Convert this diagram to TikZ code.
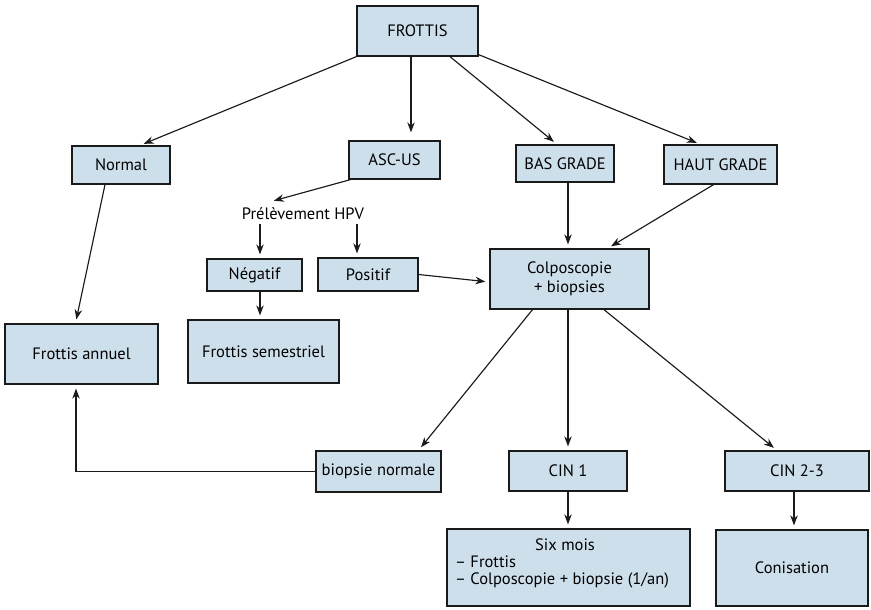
\documentclass[tikz,border=0pt]{standalone}
\usepackage{fontspec}
\setmainfont{PT Sans}
\usetikzlibrary{arrows.meta,calc}
\definecolor{boxfill}{HTML}{CEDFEC}
\definecolor{linec}{HTML}{1A1A1A}
\begin{document}
\begin{tikzpicture}[x=1pt,y=-1pt,
  box/.style={draw=linec, line width=1.3pt, fill=boxfill, inner sep=0pt, font=\fontsize{16.5}{19}\selectfont, align=center},
  lbl/.style={inner sep=0pt, font=\fontsize{16.5}{19}\selectfont},
  arr/.style={-{Stealth[length=10pt,width=7.5pt]}, line width=1.15pt, draw=linec, shorten >=4pt}]
\useasboundingbox (0,0) rectangle (871,610);
\node[box, minimum width=121pt, minimum height=50pt] (frottis) at (417.5,31) {FROTTIS};
\node[box, minimum width=98pt, minimum height=38pt] (normal) at (121,165) {Normal};
\node[box, minimum width=91pt, minimum height=38pt] (ascus) at (394.5,160) {ASC-US};
\node[box, minimum width=98pt, minimum height=37pt] (bas) at (565,163.5) {BAS GRADE};
\node[box, minimum width=113pt, minimum height=39pt] (haut) at (720.5,164.5) {HAUT GRADE};
\node[lbl] (prel) at (303,214) {Prélèvement HPV};
\node[box, minimum width=95pt, minimum height=32pt] (neg) at (254.5,275) {Négatif};
\node[box, minimum width=100pt, minimum height=33pt] (pos) at (368,274.5) {Positif};
\node[box, minimum width=159pt, minimum height=60pt] (colpo) at (569.5,279) {Colposcopie\\+ biopsies};
\node[box, minimum width=153pt, minimum height=60pt] (fann) at (81.5,354) {Frottis annuel};
\node[box, minimum width=151pt, minimum height=63pt] (fsem) at (263.5,351.5) {Frottis semestriel};
\node[box, minimum width=125pt, minimum height=41pt] (bnorm) at (378.5,471.5) {biopsie normale};
\node[box, minimum width=118pt, minimum height=40pt] (cin1) at (568,471) {CIN 1};
\node[box, minimum width=144pt, minimum height=40pt] (cin23) at (797,471) {CIN 2-3};
\node[box, minimum width=243pt, minimum height=77pt] (six) at (568.5,567.5) {};
\node[inner sep=0pt, anchor=north west, align=left, font=\fontsize{16.5}{17}\selectfont] (sixt) at (455,539)
  {\hspace*{80pt}Six mois\\– Frottis\\– Colposcopie + biopsie (1/an)};
\node[box, minimum width=152pt, minimum height=76pt] (conis) at (792,568) {Conisation};

\draw[arr] (frottis.south west) -- ($(normal.north)+(19,0)$);
\draw[arr] ($(frottis.south)+(-6.5,0)$) -- ($(ascus.north)+(16.5,-4)$);
\draw[arr] ($(frottis.south)+(32.5,0)$) -- ($(bas.north)+(-8,0)$);
\draw[arr] ($(frottis.south east)+(0,-2)$) -- ($(haut.north)+(-20,0)$);
\draw[arr] ($(ascus.south west)+(2,0)$) -- ($(prel.north)+(-33,-6)$);
\draw[arr] ($(prel.south)+(-43,4)$) -- ($(neg.north)+(5.5,0)$);
\draw[arr] ($(prel.south)+(54,4)$) -- ($(pos.north)+(-11,0)$);
\draw[arr] ($(neg.south)+(5.5,0)$) -- ($(fsem.north)+(-3.5,0)$);
\draw[arr] (pos.east) -- ($(colpo.west)+(0,3)$);
\draw[arr] ($(bas.south)+(3,0)$) -- ($(colpo.north)+(-1.5,0)$);
\draw[arr] ($(haut.south)+(-7,0)$) -- ($(colpo.north east)+(-42,0)$);
\draw[arr] ($(normal.south)+(-16,0)$) -- ($(fann.north)+(-6,0)$);
\draw[arr] ($(colpo.south)+(-37,0)$) -- ($(bnorm.north)+(40,0)$);
\draw[arr] ($(colpo.south)+(-1.5,0)$) -- (cin1.north);
\draw[arr] ($(colpo.south)+(34.5,0)$) -- ($(cin23.north)+(-20,0)$);
\draw[arr] (cin1.south) -- (six.north -| cin1.south);
\draw[arr] ($(cin23.south)+(-3,0)$) -- ($(conis.north)+(2,0)$);
\draw[arr] (bnorm.west) -- ($(bnorm.west -| fann.south)+(-5.5,0)$) -- ($(fann.south)+(-5.5,0)$);
\end{tikzpicture}
\end{document}
